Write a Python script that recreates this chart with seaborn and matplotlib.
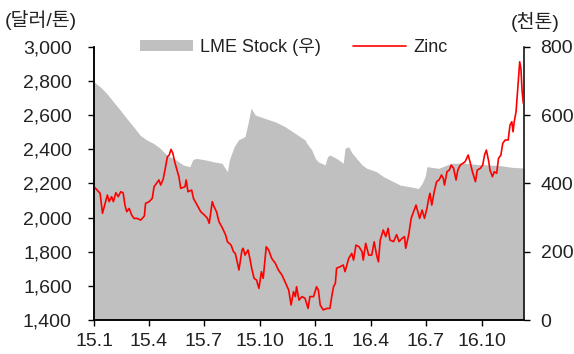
import matplotlib
matplotlib.use("Agg")
import matplotlib.pyplot as plt
from matplotlib.patches import Patch
from matplotlib.lines import Line2D
import pandas as pd
import seaborn as sns

START = "2015-01-01"

# Zinc price (USD/ton), left axis; positions are days after START
zinc_days = [
    0, 5, 10, 14, 19, 22, 25, 29, 32, 36, 40, 44, 48, 51, 54, 58, 62, 66, 71, 77,
    83, 85, 91, 96, 99, 103, 107, 110, 114, 117, 121, 124, 127, 130, 133, 136, 140, 143, 150, 152,
    155, 161, 164, 170, 176, 182, 187, 190, 195, 198, 202, 206, 212, 217, 220, 226, 230, 233, 239, 244,
    246, 249, 254, 257, 260, 264, 268, 272, 276, 279, 284, 288, 293, 299, 304, 310, 315, 321, 325, 329,
    332, 334, 338, 343, 348, 353, 356, 362, 367, 370, 373, 378, 384, 389, 392, 395, 398, 400, 406, 411,
    414, 420, 425, 428, 432, 437, 442, 444, 448, 453, 458, 462, 466, 469, 472, 477, 481, 485, 488, 494,
    499, 503, 508, 512, 514, 519, 523, 527, 531, 534, 537, 541, 545, 549, 552, 554, 557, 561, 565, 569,
    573, 576, 578, 582, 586, 589, 593, 597, 600, 604, 608, 612, 617, 620, 624, 629, 632, 637, 641, 644,
    647, 651, 653, 657, 660, 664, 667, 671, 674, 678, 683, 686, 689, 691, 693, 696, 699, 702, 704, 706,
    708,
]
zinc_values = [
    2180, 2161, 2142, 2025, 2093, 2132, 2093, 2122, 2093, 2145, 2122, 2151, 2145, 2073, 2034, 2053, 2015, 1995, 1995, 1985,
    2009, 2083, 2093, 2112, 2180, 2200, 2220, 2190, 2224, 2278, 2356, 2366, 2399, 2376, 2327, 2288, 2239, 2171, 2180, 2220,
    2151, 2161, 2112, 2073, 2034, 2015, 1995, 1966, 2093, 2063, 2034, 1976, 1937, 1898, 1858, 1839, 1800, 1790, 1693, 1810,
    1820, 1780, 1810, 1761, 1703, 1644, 1634, 1585, 1683, 1644, 1829, 1810, 1761, 1732, 1693, 1663, 1624, 1576, 1488, 1566,
    1537, 1595, 1517, 1537, 1527, 1468, 1537, 1537, 1595, 1575, 1488, 1459, 1468, 1468, 1537, 1595, 1615, 1703, 1712, 1722,
    1683, 1761, 1790, 1751, 1839, 1829, 1800, 1751, 1849, 1780, 1780, 1858, 1780, 1741, 1868, 1927, 1888, 1937, 1868, 1859,
    1900, 1859, 1878, 1888, 1820, 1900, 1995, 2034, 2073, 2034, 1995, 2044, 1995, 2053, 2112, 2142, 2073, 2151, 2210, 2220,
    2249, 2229, 2190, 2268, 2278, 2307, 2288, 2220, 2278, 2307, 2317, 2327, 2366, 2327, 2268, 2210, 2278, 2288, 2307, 2366,
    2395, 2327, 2278, 2239, 2268, 2259, 2346, 2366, 2434, 2454, 2454, 2541, 2561, 2502, 2561, 2620, 2766, 2912, 2873, 2737,
    2668,
]

# LME zinc stock (thousand tons), right axis; positions are days after START
stock_days = [
    0, 10, 21, 32, 43, 54, 65, 76, 87, 98, 109, 120, 136, 147, 158, 163, 169, 183, 200, 211,
    220, 223, 231, 238, 249, 254, 259, 266, 282, 299, 315, 332, 348, 351, 359, 365, 370, 381, 385, 389,
    400, 411, 414, 420, 425, 433, 442, 450, 466, 477, 488, 505, 521, 535, 541, 546, 549, 568, 590, 612,
    634, 650, 670, 689, 709,
]
stock_values = [
    697, 683, 663, 639, 615, 590, 566, 541, 527, 517, 503, 483, 468, 454, 449, 470, 473, 469, 462, 459,
    434, 468, 507, 527, 537, 576, 620, 600, 590, 580, 566, 546, 527, 517, 498, 473, 463, 454, 478, 483,
    473, 459, 503, 507, 490, 473, 454, 444, 434, 420, 410, 395, 390, 385, 400, 420, 449, 444, 459, 459,
    455, 454, 452, 447, 445,
]

tick_labels = ["15.1", "15.4", "15.7", "15.10", "16.1", "16.4", "16.7", "16.10"]
price_ticks = [1400, 1600, 1800, 2000, 2200, 2400, 2600, 2800, 3000]
stock_ticks = [0, 200, 400, 600, 800]

sns.set_theme(style="ticks")
plt.rcParams["font.family"] = ["Liberation Sans", "Noto Sans CJK KR"]

TEXT = "#222222"
GRAY = "#c0c0c0"
RED = "#ff0000"

t0 = pd.Timestamp(START)
zinc = pd.DataFrame({"date": t0 + pd.to_timedelta(zinc_days, unit="D"), "price": zinc_values})
stock = pd.DataFrame({"date": t0 + pd.to_timedelta(stock_days, unit="D"), "stock": stock_values})

fig = plt.figure(figsize=(5.74, 3.54), dpi=100)
ax = fig.add_axes([0.1638, 0.096, 0.749, 0.772])
ax2 = ax.twinx()

# stock area on the right axis, price line drawn above it
ax2.fill_between(stock["date"], stock["stock"], 0, color=GRAY, lw=0)
sns.lineplot(data=zinc, x="date", y="price", ax=ax, color=RED, lw=1.2)
ax.set_zorder(ax2.get_zorder() + 1)
ax.patch.set_visible(False)

tick_pos = [pd.Timestamp(year=2000 + int(t.split(".")[0]), month=int(t.split(".")[1]), day=1)
            for t in tick_labels]
ax.set_xlim(t0, t0 + pd.Timedelta(days=709))
ax.set_xticks(tick_pos)
ax.set_xticklabels(tick_labels)

ax.set_ylim(price_ticks[0], price_ticks[-1])
ax.set_yticks(price_ticks)
ax.set_yticklabels([f"{v:,}" for v in price_ticks])
ax2.set_ylim(stock_ticks[0], stock_ticks[-1])
ax2.set_yticks(stock_ticks)
ax2.set_yticklabels([str(v) for v in stock_ticks])

ax.set_xlabel("")
ax.set_ylabel("")
ax2.set_ylabel("")

for a in (ax, ax2):
    a.spines["top"].set_visible(False)
    for s in ("left", "right", "bottom"):
        a.spines[s].set_color("black")
        a.spines[s].set_linewidth(1.1)
    a.grid(False)
ax.spines["right"].set_visible(False)

ax.tick_params(axis="x", length=4, width=1, colors="black", labelcolor=TEXT,
               labelsize=14, pad=5)
ax.tick_params(axis="y", length=4, width=1, colors="black", labelcolor=TEXT,
               labelsize=14, pad=12)
ax2.tick_params(axis="y", length=4, width=1, colors="black", labelcolor=TEXT,
                labelsize=14, pad=8)

handles = [Patch(facecolor=GRAY, edgecolor="none"), Line2D([], [], color=RED, lw=1.2)]
fig.legend(handles, ["LME Stock (우)", "Zinc"], loc="center",
           bbox_to_anchor=(0.512, 0.868), ncol=2, frameon=False, fontsize=13,
           handlelength=2.9, handleheight=0.55, columnspacing=1.8,
           handletextpad=0.4, labelcolor=TEXT)

fig.text(5 / 574, 1 - 20 / 354, "(달러/톤)", ha="left", va="center",
         fontsize=14, color=TEXT)
fig.text(560 / 574, 1 - 22 / 354, "(천톤)", ha="right", va="center",
         fontsize=14, color=TEXT)

fig.savefig("out.png", dpi=100)
